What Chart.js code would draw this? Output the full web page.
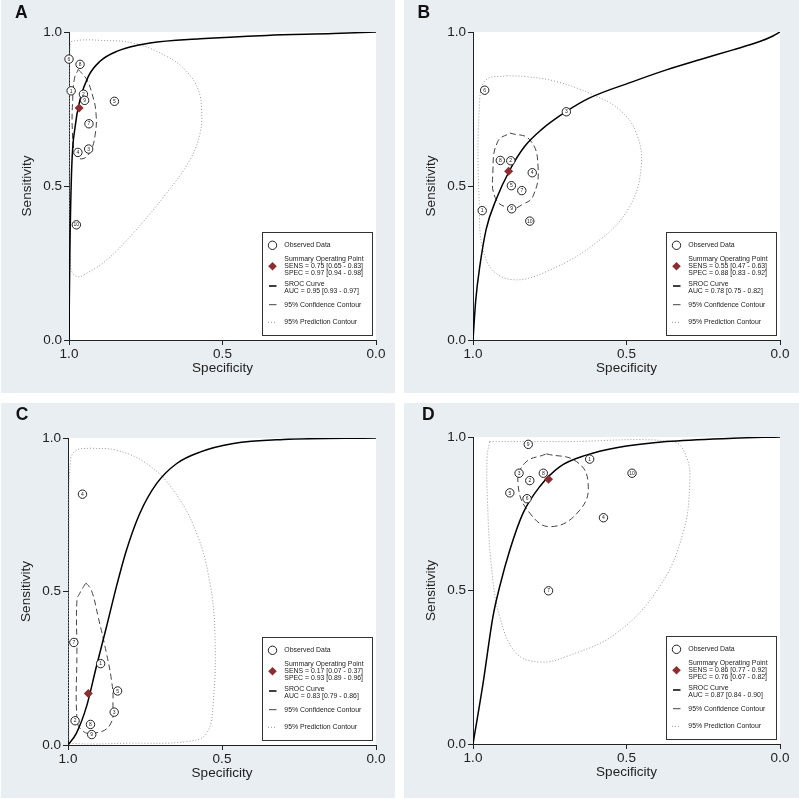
<!DOCTYPE html>
<html><head><meta charset="utf-8">
<script src="https://cdn.jsdelivr.net/npm/chart.js@4.4.0/dist/chart.umd.min.js"></script>
<style>
html,body{margin:0;padding:0;background:#fff;width:799px;height:799px;overflow:hidden}
.panel{position:absolute;background:#e9eef2}
.panel canvas{position:absolute;left:0;top:0}
.letter{position:absolute;font:bold 17.5px "Liberation Sans",Arial,sans-serif;line-height:1;color:#111}
</style></head><body>
<div class="panel" style="left:1px;top:0;width:394px;height:393px"><canvas id="cA" width="394" height="393"></canvas><div class="letter" style="left:14px;top:4.4px">A</div></div>
<div class="panel" style="left:404px;top:0;width:395px;height:393px"><canvas id="cB" width="395" height="393"></canvas><div class="letter" style="left:13.6px;top:4.4px">B</div></div>
<div class="panel" style="left:1px;top:403px;width:394px;height:395px"><canvas id="cC" width="394" height="395"></canvas><div class="letter" style="left:14.8px;top:2.7px">C</div></div>
<div class="panel" style="left:404px;top:403px;width:395px;height:395px"><canvas id="cD" width="395" height="395"></canvas><div class="letter" style="left:18px;top:2.7px">D</div></div>
<script>
// ---------- Axis ticks ----------
const tickValues = [0, 0.5, 1];
const xTitle = 'Specificity';
const yTitle = 'Sensitivity';

// ---------- Panel A ----------
const A_obsLabels = ['6','8','1','2','9','5','7','4','3','10'];
const A_obsSpec = [1.000,0.964,0.993,0.953,0.949,0.852,0.935,0.971,0.936,0.976];
const A_obsSens = [0.912,0.895,0.809,0.798,0.778,0.775,0.702,0.609,0.620,0.374];
const A_sumSpec = [0.967];
const A_sumSens = [0.753];
const A_srocSpec = [1.000,0.999,0.997,0.991,0.980,0.964,0.937,0.899,0.845,0.736,0.573,0.356,0.139,0.000];
const A_srocSens = [0.000,0.120,0.300,0.563,0.693,0.780,0.856,0.905,0.937,0.964,0.978,0.989,0.995,1.000];
const A_confSpec = [0.970,0.945,0.925,0.912,0.915,0.932,0.958,0.980,0.989,0.988,0.982,0.970];
const A_confSens = [0.878,0.850,0.800,0.735,0.665,0.610,0.588,0.605,0.680,0.780,0.850,0.878];
const A_predSpec = [0.993,0.960,0.900,0.791,0.682,0.617,0.579,0.568,0.573,0.606,0.682,0.791,0.877,0.942,0.975,0.995,0.998,0.997,0.993];
const A_predSens = [0.969,0.974,0.973,0.964,0.921,0.872,0.812,0.747,0.672,0.585,0.477,0.347,0.260,0.217,0.206,0.238,0.560,0.943,0.969];
const A_legend = ['SENS = 0.75 [0.65 - 0.83]','SPEC = 0.97 [0.94 - 0.98]','AUC = 0.95 [0.93 - 0.97]'];

// ---------- Panel B ----------
const B_obsLabels = ['6','3','8','2','4','5','7','1','9','10'];
const B_obsSpec = [0.962,0.696,0.911,0.877,0.807,0.875,0.841,0.970,0.874,0.815];
const B_obsSens = [0.811,0.741,0.583,0.582,0.543,0.501,0.485,0.420,0.426,0.386];
const B_sumSpec = [0.884];
const B_sumSens = [0.548];
const B_srocSpec = [1.000,0.991,0.978,0.957,0.924,0.880,0.832,0.777,0.696,0.620,0.479,0.370,0.262,0.153,0.066,0.023,0.000];
const B_srocSens = [0.000,0.130,0.238,0.360,0.458,0.552,0.628,0.683,0.742,0.786,0.839,0.877,0.910,0.942,0.969,0.987,1.000];
const B_confSpec = [0.880,0.815,0.788,0.805,0.841,0.870,0.924,0.935,0.919,0.880];
const B_confSens = [0.672,0.650,0.562,0.466,0.439,0.428,0.455,0.552,0.645,0.672];
const B_predSpec = [0.891,0.826,0.728,0.609,0.522,0.468,0.452,0.490,0.587,0.750,0.880,0.957,0.980,0.978,0.957,0.891];
const B_predSens = [0.858,0.855,0.839,0.796,0.747,0.672,0.563,0.433,0.325,0.227,0.197,0.260,0.455,0.780,0.845,0.858];
const B_legend = ['SENS = 0.55 [0.47 - 0.63]','SPEC = 0.88 [0.83 - 0.92]','AUC = 0.78 [0.75 - 0.82]'];

// ---------- Panel C ----------
const C_obsLabels = ['4','7','1','5','3','2','8','9'];
const C_obsSpec = [0.953,0.981,0.894,0.839,0.850,0.977,0.927,0.923];
const C_obsSens = [0.817,0.334,0.265,0.176,0.107,0.079,0.067,0.034];
const C_sumSpec = [0.934];
const C_sumSens = [0.168];
const C_srocSpec = [1.000,0.973,0.940,0.908,0.875,0.843,0.810,0.767,0.712,0.647,0.572,0.463,0.301,0.000];
const C_srocSens = [0.000,0.038,0.125,0.255,0.385,0.515,0.635,0.754,0.852,0.917,0.954,0.982,0.995,1.000];
const C_confSpec = [0.942,0.924,0.902,0.875,0.859,0.854,0.864,0.919,0.956,0.971,0.971,0.971,0.962,0.942];
const C_confSens = [0.528,0.504,0.417,0.298,0.212,0.146,0.065,0.038,0.049,0.088,0.300,0.472,0.494,0.528];
const C_predSpec = [0.929,0.843,0.745,0.658,0.582,0.539,0.523,0.528,0.550,0.615,0.800,0.989,0.997,0.997,0.992,0.973,0.929];
const C_predSens = [0.967,0.960,0.917,0.830,0.689,0.526,0.363,0.146,0.038,0.011,0.006,0.006,0.038,0.689,0.927,0.960,0.967];
const C_legend = ['SENS = 0.17 [0.07 - 0.37]','SPEC = 0.93 [0.89 - 0.96]','AUC = 0.83 [0.79 - 0.86]'];

// ---------- Panel D ----------
const D_obsLabels = ['9','1','3','8','2','10','5','6','4','7'];
const D_obsSpec = [0.820,0.620,0.850,0.771,0.815,0.482,0.880,0.824,0.575,0.754];
const D_obsSens = [0.976,0.928,0.882,0.882,0.858,0.882,0.818,0.799,0.737,0.499];
const D_sumSpec = [0.754];
const D_sumSens = [0.862];
const D_srocSpec = [1.000,0.967,0.935,0.913,0.880,0.837,0.783,0.718,0.631,0.533,0.370,0.153,0.000];
const D_srocSens = [0.000,0.199,0.415,0.513,0.632,0.752,0.838,0.903,0.941,0.965,0.985,0.996,1.000];
const D_confSpec = [0.761,0.663,0.625,0.652,0.745,0.815,0.853,0.832,0.761];
const D_confSens = [0.945,0.920,0.850,0.762,0.708,0.752,0.843,0.914,0.945];
const D_predSpec = [0.946,0.700,0.349,0.305,0.294,0.316,0.392,0.533,0.696,0.783,0.859,0.913,0.940,0.953,0.954,0.946];
const D_predSens = [0.985,0.985,0.985,0.936,0.849,0.687,0.513,0.361,0.285,0.267,0.296,0.415,0.578,0.795,0.936,0.985];
const D_legend = ['SENS = 0.86 [0.77 - 0.92]','SPEC = 0.76 [0.67 - 0.82]','AUC = 0.87 [0.84 - 0.90]'];

// ---------- helpers ----------
const FONT = '"Liberation Sans", Arial, sans-serif';
const INK = '#222';
const MAROON = '#8c2d32';
const zip = (xs, ys) => xs.map((x, i) => ({x: x, y: ys[i]}));

const areaBg = {
  id: 'areaBg',
  beforeDraw(chart) {
    const {ctx, chartArea: a} = chart;
    ctx.save(); ctx.fillStyle = '#fff';
    ctx.fillRect(a.left, a.top, a.right - a.left, a.bottom - a.top);
    ctx.restore();
  }
};

const pointNumbers = {
  id: 'pointNumbers',
  afterDatasetsDraw(chart, args, opts) {
    const ctx = chart.ctx;
    const meta = chart.getDatasetMeta(1);
    ctx.save();
    ctx.font = '5px ' + FONT;
    ctx.fillStyle = INK;
    ctx.textAlign = 'center'; ctx.textBaseline = 'middle';
    meta.data.forEach((el, i) => ctx.fillText(opts.labels[i], el.x, el.y + 0.3));
    ctx.restore();
  }
};

const srocLegend = {
  id: 'srocLegend',
  afterDraw(chart, args, opts) {
    const {ctx, chartArea: a} = chart;
    const w = 110, h = 103;
    const x0 = Math.round(a.right - 4.5 - w), y0 = Math.round(a.bottom - 5 - h);
    ctx.save();
    ctx.fillStyle = '#fff'; ctx.fillRect(x0, y0, w, h);
    ctx.strokeStyle = '#333'; ctx.lineWidth = 1; ctx.strokeRect(x0 + 0.5, y0 + 0.5, w, h);
    // symbols
    ctx.beginPath(); ctx.arc(x0 + 10.5, y0 + 13.3, 4.2, 0, Math.PI * 2);
    ctx.fillStyle = '#fff'; ctx.fill(); ctx.strokeStyle = INK; ctx.lineWidth = 1; ctx.stroke();
    ctx.beginPath();
    ctx.moveTo(x0 + 10.5, y0 + 34.3 - 4.3); ctx.lineTo(x0 + 14.8, y0 + 34.3);
    ctx.lineTo(x0 + 10.5, y0 + 34.3 + 4.3); ctx.lineTo(x0 + 6.2, y0 + 34.3); ctx.closePath();
    ctx.fillStyle = MAROON; ctx.fill();
    ctx.strokeStyle = '#000'; ctx.lineWidth = 1.5;
    ctx.beginPath(); ctx.moveTo(x0 + 7, y0 + 54); ctx.lineTo(x0 + 14.5, y0 + 54); ctx.stroke();
    ctx.strokeStyle = '#444'; ctx.lineWidth = 1;
    ctx.beginPath(); ctx.moveTo(x0 + 7, y0 + 72.7); ctx.lineTo(x0 + 14.5, y0 + 72.7); ctx.stroke();
    ctx.strokeStyle = '#999'; ctx.setLineDash([1, 2]);
    ctx.beginPath(); ctx.moveTo(x0 + 6, y0 + 90.3); ctx.lineTo(x0 + 15, y0 + 90.3); ctx.stroke();
    ctx.setLineDash([]);
    // texts
    ctx.fillStyle = INK; ctx.font = '6.9px ' + FONT;
    ctx.textAlign = 'left'; ctx.textBaseline = 'middle';
    const tx = x0 + 22.3;
    ctx.fillText('Observed Data', tx, y0 + 13.3);
    ctx.fillText('Summary Operating Point', tx, y0 + 27);
    ctx.fillText(opts.text[0], tx, y0 + 34.3);
    ctx.fillText(opts.text[1], tx, y0 + 41);
    ctx.fillText('SROC Curve', tx, y0 + 51.7);
    ctx.fillText(opts.text[2], tx, y0 + 58.7);
    ctx.fillText('95% Confidence Contour', tx, y0 + 72.7);
    ctx.fillText('95% Prediction Contour', tx, y0 + 90.3);
    ctx.restore();
  }
};

function axisFont() { return {family: FONT, size: 13.5}; }

function buildPanel(id, geo, d) {
  new Chart(document.getElementById(id), {
    type: 'scatter',
    data: {
      datasets: [
        {label: 'Summary', data: zip(d.sumSpec, d.sumSens), order: 0, clip: false,
         pointStyle: 'rectRot', pointRadius: 4.5, pointHoverRadius: 4.5,
         backgroundColor: MAROON, borderColor: MAROON, borderWidth: 0},
        {label: 'Observed', data: zip(d.obsSpec, d.obsSens), order: 1, clip: false,
         pointStyle: 'circle', pointRadius: 4.2, pointHoverRadius: 4.2,
         backgroundColor: '#fff', borderColor: INK, borderWidth: 1},
        {label: 'SROC', data: zip(d.srocSpec, d.srocSens), order: 2, showLine: true,
         pointRadius: 0, borderColor: '#000', borderWidth: 1.5,
         cubicInterpolationMode: 'monotone', fill: false},
        {label: 'Conf', data: zip(d.confSpec, d.confSens), order: 3, showLine: true,
         pointRadius: 0, borderColor: '#444', borderWidth: 1, borderDash: [6, 3.5],
         tension: 0.45, fill: false},
        {label: 'Pred', data: zip(d.predSpec, d.predSens), order: 4, showLine: true,
         pointRadius: 0, borderColor: '#999', borderWidth: 1, borderDash: [1, 2],
         tension: 0.4, fill: false}
      ]
    },
    options: {
      responsive: false, animation: false, events: [],
      layout: {padding: {left: 0, right: geo.padR, top: geo.top, bottom: 0}},
      plugins: {
        legend: {display: false}, tooltip: {enabled: false},
        pointNumbers: {labels: d.obsLabels},
        srocLegend: {text: d.legend}
      },
      scales: {
        x: {
          type: 'linear', min: 0, max: 1, reverse: true,
          afterBuildTicks: s => { s.ticks = tickValues.map(v => ({value: v})); },
          afterFit: s => { s.height = geo.xH; },
          ticks: {callback: v => Number(v).toFixed(1), font: axisFont(), color: INK, padding: 1, maxRotation: 0},
          grid: {drawOnChartArea: false, drawTicks: true, tickLength: 5, color: INK},
          border: {display: true, color: INK, width: 1},
          title: {display: true, text: xTitle, font: axisFont(), color: INK, padding: {top: 0, bottom: geo.xH - 28 - 8.1}}
        },
        y: {
          type: 'linear', min: 0, max: 1,
          afterBuildTicks: s => { s.ticks = tickValues.map(v => ({value: v})); },
          afterFit: s => { s.width = geo.yW; },
          ticks: {callback: v => Number(v).toFixed(1), font: axisFont(), color: INK, padding: 2},
          grid: {drawOnChartArea: false, drawTicks: true, tickLength: 5, color: INK},
          border: {display: true, color: INK, width: 1},
          title: {display: true, text: yTitle, font: axisFont(), color: INK, padding: {top: geo.yW - 41.7 - 8.1, bottom: 0}}
        }
      }
    },
    plugins: [areaBg, pointNumbers, srocLegend]
  });
}

buildPanel('cA', {yW: 68, padR: 19, top: 32, xH: 53},
  {obsLabels: A_obsLabels, obsSpec: A_obsSpec, obsSens: A_obsSens, sumSpec: A_sumSpec, sumSens: A_sumSens,
   srocSpec: A_srocSpec, srocSens: A_srocSens, confSpec: A_confSpec, confSens: A_confSens,
   predSpec: A_predSpec, predSens: A_predSens, legend: A_legend});
buildPanel('cB', {yW: 69, padR: 19, top: 32, xH: 53},
  {obsLabels: B_obsLabels, obsSpec: B_obsSpec, obsSens: B_obsSens, sumSpec: B_sumSpec, sumSens: B_sumSens,
   srocSpec: B_srocSpec, srocSens: B_srocSens, confSpec: B_confSpec, confSens: B_confSens,
   predSpec: B_predSpec, predSens: B_predSens, legend: B_legend});
buildPanel('cC', {yW: 67, padR: 19, top: 35, xH: 53},
  {obsLabels: C_obsLabels, obsSpec: C_obsSpec, obsSens: C_obsSens, sumSpec: C_sumSpec, sumSens: C_sumSens,
   srocSpec: C_srocSpec, srocSens: C_srocSens, confSpec: C_confSpec, confSens: C_confSens,
   predSpec: C_predSpec, predSens: C_predSens, legend: C_legend});
buildPanel('cD', {yW: 69, padR: 19, top: 34, xH: 54},
  {obsLabels: D_obsLabels, obsSpec: D_obsSpec, obsSens: D_obsSens, sumSpec: D_sumSpec, sumSens: D_sumSens,
   srocSpec: D_srocSpec, srocSens: D_srocSens, confSpec: D_confSpec, confSens: D_confSens,
   predSpec: D_predSpec, predSens: D_predSens, legend: D_legend});
</script>
</body></html>
